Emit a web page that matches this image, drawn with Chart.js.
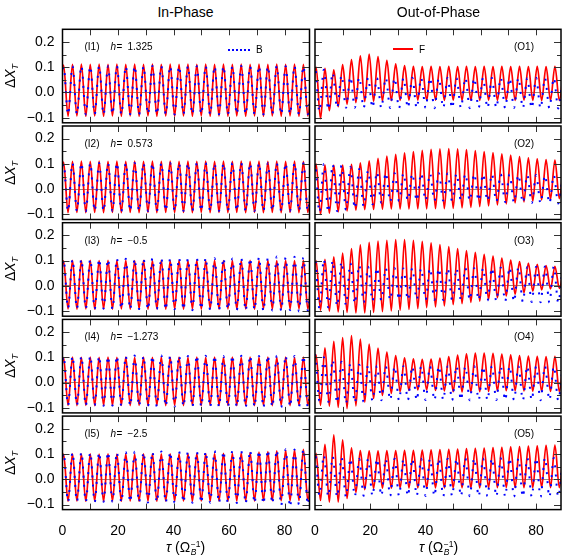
<!DOCTYPE html>
<html><head><meta charset="utf-8">
<script src="https://cdn.jsdelivr.net/npm/chart.js@4.4.1/dist/chart.umd.min.js"></script>
<style>
html,body{margin:0;padding:0;background:#fff;}
#wrap{position:relative;width:566px;height:559px;overflow:hidden;font-family:"Liberation Sans",Arial,Helvetica,sans-serif;color:#000;}
canvas{position:absolute;}
.t{position:absolute;white-space:nowrap;line-height:1;}
</style></head><body><div id="wrap"></div>
<script>
// extremum times (tau) for F curves and in-phase B curves
const tauF = [-1.2,0.4,2.0,3.6,5.2,6.8,8.4,10.0,11.6,13.2,14.8,16.4,18.0,19.6,21.2,22.8,24.4,26.0,27.6,29.2,
  30.8,32.4,34.0,35.6,37.2,38.8,40.4,42.0,43.6,45.2,46.8,48.4,50.0,51.6,53.2,54.8,56.4,58.0,59.6,61.2,
  62.8,64.4,66.0,67.6,69.2,70.8,72.4,74.0,75.6,77.2,78.8,80.4,82.0,83.6,85.2,86.8,88.4,90.0];
// extremum times for out-of-phase B curves
const tauB = [-1.6,0.0,1.6,3.2,4.8,6.4,8.0,9.6,11.2,12.8,14.4,16.0,17.6,19.2,20.8,22.4,24.0,25.6,27.2,28.8,
  30.4,32.0,33.6,35.2,36.8,38.4,40.0,41.6,43.2,44.8,46.4,48.0,49.6,51.2,52.8,54.4,56.0,57.6,59.2,60.8,
  62.4,64.0,65.6,67.2,68.8,70.4,72.0,73.6,75.2,76.8,78.4,80.0,81.6,83.2,84.8,86.4,88.0,89.6];

const inF1 = [-0.093,0.108, -0.094,0.111, -0.093,0.112, -0.094,0.111, -0.093,0.112,
 -0.094,0.111, -0.093,0.112, -0.094,0.111, -0.093,0.112, -0.094,0.111,
 -0.093,0.112, -0.094,0.111, -0.093,0.112, -0.094,0.111, -0.093,0.112,
 -0.094,0.111, -0.093,0.112, -0.094,0.111, -0.093,0.112, -0.094,0.111,
 -0.093,0.112, -0.094,0.111, -0.093,0.112, -0.094,0.111, -0.093,0.112,
 -0.094,0.111, -0.093,0.112, -0.094,0.111, -0.093,0.112];
const inB1 = [-0.086,0.101, -0.087,0.104, -0.086,0.105, -0.087,0.104, -0.086,0.105,
 -0.087,0.104, -0.086,0.105, -0.087,0.104, -0.086,0.105, -0.087,0.104,
 -0.086,0.105, -0.087,0.104, -0.086,0.105, -0.087,0.104, -0.086,0.105,
 -0.087,0.104, -0.086,0.105, -0.087,0.104, -0.086,0.105, -0.087,0.104,
 -0.086,0.105, -0.087,0.104, -0.086,0.105, -0.087,0.104, -0.086,0.105,
 -0.087,0.104, -0.086,0.105, -0.087,0.104, -0.086,0.105];
const inF2 = [-0.092,0.107, -0.093,0.110, -0.092,0.111, -0.093,0.110, -0.092,0.111,
 -0.093,0.110, -0.092,0.111, -0.093,0.110, -0.092,0.111, -0.093,0.110,
 -0.092,0.111, -0.093,0.110, -0.092,0.111, -0.093,0.110, -0.092,0.111,
 -0.093,0.110, -0.092,0.111, -0.093,0.110, -0.092,0.111, -0.093,0.110,
 -0.092,0.111, -0.093,0.110, -0.092,0.111, -0.093,0.110, -0.092,0.111,
 -0.093,0.110, -0.092,0.111, -0.093,0.110, -0.092,0.111];
const inB2 = [-0.086,0.100, -0.087,0.103, -0.086,0.104, -0.087,0.103, -0.086,0.104,
 -0.087,0.103, -0.086,0.104, -0.087,0.103, -0.086,0.104, -0.087,0.103,
 -0.086,0.104, -0.087,0.103, -0.086,0.104, -0.087,0.103, -0.086,0.104,
 -0.087,0.103, -0.086,0.104, -0.087,0.103, -0.086,0.104, -0.087,0.103,
 -0.086,0.104, -0.087,0.103, -0.086,0.104, -0.087,0.103, -0.086,0.104,
 -0.087,0.103, -0.086,0.104, -0.087,0.103, -0.086,0.104];
const inF3 = [-0.092,0.099, -0.091,0.101, -0.092,0.100, -0.091,0.101, -0.092,0.100,
 -0.091,0.101, -0.092,0.100, -0.091,0.101, -0.092,0.100, -0.091,0.101,
 -0.092,0.100, -0.091,0.101, -0.092,0.100, -0.091,0.101, -0.092,0.100,
 -0.091,0.101, -0.092,0.100, -0.091,0.101, -0.092,0.100, -0.091,0.101,
 -0.092,0.100, -0.091,0.101, -0.092,0.100, -0.091,0.101, -0.092,0.100,
 -0.091,0.101, -0.092,0.100, -0.091,0.101, -0.092,0.100];
const inB3 = [-0.088,0.104, -0.089,0.105, -0.090,0.106, -0.089,0.106, -0.091,0.107,
 -0.090,0.106, -0.092,0.108, -0.091,0.107, -0.093,0.108, -0.092,0.109,
 -0.094,0.110, -0.092,0.112, -0.095,0.109, -0.093,0.111, -0.094,0.108,
 -0.096,0.110, -0.093,0.112, -0.095,0.109, -0.097,0.111, -0.094,0.108,
 -0.096,0.112, -0.098,0.110, -0.095,0.114, -0.100,0.111, -0.097,0.116,
 -0.099,0.113, -0.096,0.115, -0.101,0.112, -0.098,0.114];
const inF4 = [-0.091,0.099, -0.090,0.101, -0.091,0.100, -0.090,0.101, -0.091,0.100,
 -0.090,0.101, -0.091,0.100, -0.090,0.101, -0.091,0.100, -0.090,0.101,
 -0.091,0.100, -0.090,0.101, -0.091,0.100, -0.090,0.101, -0.091,0.100,
 -0.090,0.101, -0.091,0.100, -0.090,0.101, -0.091,0.100, -0.090,0.101,
 -0.091,0.100, -0.090,0.101, -0.091,0.100, -0.090,0.101, -0.091,0.100,
 -0.090,0.101, -0.091,0.100, -0.090,0.101, -0.091,0.100];
const inB4 = [-0.089,0.104, -0.090,0.105, -0.089,0.104, -0.091,0.106, -0.090,0.105,
 -0.092,0.104, -0.091,0.106, -0.093,0.105, -0.092,0.107, -0.094,0.105,
 -0.093,0.106, -0.095,0.108, -0.094,0.106, -0.096,0.107, -0.095,0.105,
 -0.097,0.108, -0.095,0.106, -0.098,0.107, -0.096,0.105, -0.099,0.108,
 -0.097,0.106, -0.098,0.107, -0.096,0.105, -0.099,0.108, -0.097,0.106,
 -0.098,0.107, -0.096,0.105, -0.097,0.106, -0.096,0.105];
const inF5 = [-0.086,0.100, -0.087,0.101, -0.086,0.100, -0.087,0.101, -0.086,0.100,
 -0.087,0.101, -0.086,0.100, -0.087,0.101, -0.086,0.100, -0.087,0.101,
 -0.086,0.101, -0.087,0.101, -0.086,0.101, -0.087,0.101, -0.086,0.102,
 -0.087,0.102, -0.086,0.102, -0.087,0.102, -0.086,0.103, -0.087,0.103,
 -0.086,0.104, -0.086,0.106, -0.086,0.108, -0.085,0.110, -0.085,0.112,
 -0.085,0.114, -0.085,0.116, -0.084,0.118, -0.084,0.120];
const inB5 = [-0.088,0.104, -0.089,0.106, -0.088,0.107, -0.089,0.106, -0.090,0.107,
 -0.089,0.108, -0.090,0.107, -0.091,0.108, -0.090,0.109, -0.091,0.108,
 -0.092,0.109, -0.091,0.110, -0.092,0.109, -0.093,0.110, -0.092,0.111,
 -0.093,0.110, -0.094,0.111, -0.093,0.112, -0.094,0.111, -0.095,0.113,
 -0.094,0.112, -0.096,0.115, -0.095,0.114, -0.098,0.117, -0.097,0.116,
 -0.104,0.119, -0.110,0.118, -0.100,0.120, -0.100,0.121];

const outF1 = [-0.100,0.100, -0.104,0.095, -0.072,0.090, -0.056,0.110, -0.046,0.130,
 -0.040,0.145, -0.036,0.152, -0.035,0.142, -0.034,0.127, -0.032,0.113,
 -0.031,0.106, -0.030,0.103, -0.030,0.102, -0.031,0.103, -0.030,0.102,
 -0.031,0.103, -0.030,0.102, -0.031,0.103, -0.030,0.102, -0.031,0.103,
 -0.030,0.102, -0.031,0.103, -0.030,0.102, -0.031,0.103, -0.030,0.102,
 -0.031,0.103, -0.032,0.102, -0.031,0.103, -0.032,0.102];
const outB1 = [-0.060,0.100, -0.075,0.090, -0.068,0.078, -0.062,0.068, -0.060,0.062,
 -0.060,0.060, -0.061,0.058, -0.060,0.057, -0.062,0.058, -0.061,0.057,
 -0.062,0.057, -0.061,0.058, -0.062,0.057, -0.061,0.058, -0.062,0.057,
 -0.061,0.058, -0.062,0.057, -0.061,0.058, -0.062,0.057, -0.061,0.058,
 -0.062,0.057, -0.061,0.058, -0.062,0.057, -0.061,0.058, -0.062,0.057,
 -0.062,0.058, -0.063,0.057, -0.062,0.058, -0.063,0.057];
const outF2 = [-0.100,0.100, -0.100,0.096, -0.095,0.095, -0.090,0.095, -0.086,0.098,
 -0.083,0.104, -0.081,0.112, -0.080,0.122, -0.079,0.131, -0.078,0.138,
 -0.078,0.144, -0.078,0.149, -0.078,0.154, -0.078,0.158, -0.077,0.160,
 -0.077,0.161, -0.076,0.160, -0.074,0.157, -0.072,0.153, -0.069,0.149,
 -0.066,0.145, -0.062,0.140, -0.058,0.135, -0.054,0.129, -0.050,0.124,
 -0.046,0.120, -0.042,0.117, -0.039,0.115, -0.037,0.113];
const outB2 = [-0.090,0.100, -0.092,0.100, -0.090,0.098, -0.087,0.094, -0.082,0.088,
 -0.076,0.080, -0.068,0.073, -0.060,0.068, -0.054,0.065, -0.050,0.063,
 -0.047,0.063, -0.045,0.062, -0.046,0.063, -0.045,0.062, -0.046,0.063,
 -0.045,0.062, -0.046,0.062, -0.045,0.061, -0.046,0.061, -0.046,0.060,
 -0.047,0.060, -0.049,0.059, -0.051,0.058, -0.053,0.057, -0.054,0.056,
 -0.055,0.056, -0.056,0.055, -0.056,0.055, -0.057,0.055];
const outF3 = [-0.095,0.100, -0.096,0.105, -0.100,0.115, -0.103,0.130, -0.105,0.148,
 -0.107,0.162, -0.107,0.172, -0.105,0.177, -0.102,0.180, -0.099,0.183,
 -0.096,0.183, -0.093,0.180, -0.090,0.176, -0.086,0.170, -0.083,0.163,
 -0.079,0.155, -0.074,0.148, -0.070,0.140, -0.065,0.133, -0.060,0.125,
 -0.054,0.118, -0.047,0.110, -0.040,0.102, -0.033,0.096, -0.027,0.090,
 -0.021,0.085, -0.016,0.080, -0.012,0.077, -0.010,0.075];
const outB3 = [-0.090,0.110, -0.090,0.105, -0.085,0.100, -0.080,0.095, -0.076,0.090,
 -0.070,0.082, -0.065,0.076, -0.060,0.072, -0.057,0.070, -0.056,0.070,
 -0.055,0.069, -0.056,0.070, -0.055,0.069, -0.056,0.070, -0.055,0.069,
 -0.056,0.070, -0.055,0.069, -0.056,0.070, -0.056,0.070, -0.057,0.070,
 -0.058,0.071, -0.060,0.072, -0.061,0.073, -0.062,0.074, -0.063,0.075,
 -0.064,0.076, -0.065,0.077, -0.066,0.077, -0.066,0.078];
const outF4 = [-0.090,0.110, -0.090,0.137, -0.093,0.163, -0.098,0.178, -0.103,0.186,
 -0.092,0.172, -0.077,0.152, -0.063,0.136, -0.051,0.121, -0.043,0.107,
 -0.036,0.098, -0.031,0.094, -0.029,0.092, -0.029,0.093, -0.031,0.097,
 -0.033,0.103, -0.036,0.109, -0.037,0.114, -0.037,0.117, -0.036,0.117,
 -0.035,0.116, -0.033,0.113, -0.032,0.110, -0.032,0.107, -0.033,0.105,
 -0.034,0.104, -0.035,0.103, -0.035,0.104, -0.035,0.105];
const outB4 = [-0.070,0.110, -0.072,0.100, -0.076,0.090, -0.080,0.082, -0.083,0.076,
 -0.080,0.071, -0.076,0.068, -0.072,0.066, -0.070,0.065, -0.069,0.064,
 -0.070,0.065, -0.069,0.064, -0.070,0.065, -0.069,0.064, -0.070,0.065,
 -0.069,0.064, -0.070,0.065, -0.069,0.064, -0.070,0.065, -0.069,0.064,
 -0.070,0.065, -0.069,0.064, -0.070,0.065, -0.069,0.064, -0.070,0.065,
 -0.069,0.064, -0.070,0.065, -0.069,0.064, -0.070,0.065];
const outF5 = [-0.080,0.103, -0.084,0.138, -0.090,0.176, -0.090,0.156, -0.076,0.124,
 -0.052,0.113, -0.041,0.112, -0.036,0.112, -0.035,0.113, -0.035,0.113,
 -0.034,0.114, -0.034,0.114, -0.034,0.115, -0.034,0.116, -0.034,0.117,
 -0.034,0.118, -0.034,0.119, -0.034,0.121, -0.034,0.122, -0.034,0.123,
 -0.034,0.125, -0.033,0.126, -0.033,0.128, -0.033,0.129, -0.033,0.131,
 -0.033,0.132, -0.033,0.134, -0.033,0.135, -0.033,0.136];
const outB5 = [-0.060,0.103, -0.064,0.095, -0.068,0.090, -0.070,0.086, -0.070,0.082,
 -0.067,0.080, -0.065,0.080, -0.066,0.081, -0.065,0.080, -0.066,0.081,
 -0.065,0.080, -0.066,0.081, -0.065,0.081, -0.066,0.081, -0.066,0.082,
 -0.067,0.081, -0.066,0.082, -0.067,0.082, -0.067,0.083, -0.068,0.082,
 -0.067,0.083, -0.068,0.083, -0.068,0.084, -0.069,0.083, -0.069,0.084,
 -0.069,0.084, -0.070,0.085, -0.070,0.084, -0.070,0.085];

const hValues = ['1.325','0.573','\u22120.5','\u22121.273','\u22122.5'];
const inLabels = ['(I1)','(I2)','(I3)','(I4)','(I5)'];
const outLabels = ['(O1)','(O2)','(O3)','(O4)','(O5)'];
const xTickLabels = [0,20,40,60,80];
const yTickLabels = [-0.1,0,0.1,0.2];
const yMarks = [-0.1,-0.05,0,0.05,0.1,0.15,0.2];
const xMarks = [10,20,30,40,50,60,70,80];
const inF = [inF1,inF2,inF3,inF4,inF5], inB = [inB1,inB2,inB3,inB4,inB5];
const outF = [outF1,outF2,outF3,outF4,outF5], outB = [outB1,outB2,outB3,outB4,outB5];

Chart.defaults.font.family = '"Liberation Sans", Arial, Helvetica, sans-serif';
Chart.defaults.color = '#000';

const wrap = document.getElementById('wrap');
const ROW_TOP = [29.3,126.0,222.7,319.4,416.1], PH = 93.5;

const framePlugin = {
  id:'frame',
  afterDatasetsDraw(chart){
    const {ctx, chartArea:a} = chart; const xs = chart.scales.x, ys = chart.scales.y;
    ctx.save();
    ctx.strokeStyle = '#333'; ctx.lineWidth = 1;
    ctx.beginPath();
    yMarks.forEach(v=>{
      const p = Math.round(ys.getPixelForValue(v)) + 0.5;
      const major = Math.abs(v*10 - Math.round(v*10)) < 1e-6;
      const L = major ? 7 : 4;
      ctx.moveTo(a.left, p); ctx.lineTo(a.left + L, p);
      ctx.moveTo(a.right, p); ctx.lineTo(a.right - L, p);
    });
    xMarks.forEach(v=>{
      const p = Math.round(xs.getPixelForValue(v)) + 0.5;
      ctx.moveTo(p, a.top); ctx.lineTo(p, a.top + 6);
      ctx.moveTo(p, a.bottom); ctx.lineTo(p, a.bottom - 6);
    });
    ctx.stroke();
    ctx.strokeStyle = '#000'; ctx.lineWidth = 1.5;
    ctx.strokeRect(a.left, a.top, a.right - a.left, a.bottom - a.top);
    ctx.restore();
  }
};

function fmtY(v){ const r = Math.round(v*10)/10; return (r < 0 ? '\u2212' : '') + Math.abs(r).toFixed(1); }

function makePanel(col, row, fVals, bVals, bTau){
  const bottom = row === 4, left = col === 0;
  const cL = left ? 0 : 298, cW = left ? 316 : 268;
  const areaL = left ? 62.5 : 315, areaR = left ? 309.5 : 561;
  const rowTop = ROW_TOP[row];
  const cT = Math.floor(rowTop) - 8;
  const areaB = rowTop + PH;
  const xH = 30;
  const cH = Math.ceil(areaB + (bottom ? xH + 2 : 8)) - cT;
  const cv = document.createElement('canvas');
  cv.width = cW; cv.height = cH;
  cv.style.left = cL + 'px'; cv.style.top = cT + 'px';
  cv.style.width = cW + 'px'; cv.style.height = cH + 'px';
  wrap.appendChild(cv);
  new Chart(cv, {
    type:'line',
    data:{datasets:[
      {label:'B', data:bTau.map((t,i)=>({x:t,y:bVals[i]})), borderColor:'#0000ff', borderWidth:2,
       borderDash:[2,7], pointRadius:0, cubicInterpolationMode:'monotone', fill:false},
      {label:'F', data:tauF.map((t,i)=>({x:t,y:fVals[i]})), borderColor:'#ff0000', borderWidth:1.7,
       pointRadius:0, cubicInterpolationMode:'monotone', fill:false}
    ]},
    options:{
      responsive:false, animation:false, devicePixelRatio:1, events:[],
      elements:{line:{capBezierPoints:false}},
      layout:{padding:{left:0, top:rowTop - cT, right:cL + cW - areaR, bottom:cT + cH - areaB - (bottom ? xH : 0)}},
      plugins:{legend:{display:false}, tooltip:{enabled:false}},
      scales:{
        x:{type:'linear', min:0, max:89, display:bottom, grid:{display:false}, border:{display:false},
           afterBuildTicks:s=>{ s.ticks = xTickLabels.map(v=>({value:v})); },
           ticks:{padding:5, color:'#000', font:{size:14}, maxRotation:0, autoSkip:false},
           afterFit:s=>{ if(bottom) s.height = xH; s.paddingLeft = 0; s.paddingRight = 0; }},
        y:{type:'linear', min:-0.12, max:0.25, border:{display:false},
           grid:{drawTicks:false, lineWidth:1, color:c=>(c.tick && Math.abs(c.tick.value) < 1e-9) ? '#8a8a8a' : 'rgba(0,0,0,0)'},
           afterBuildTicks:s=>{ s.ticks = yTickLabels.map(v=>({value:v})); },
           ticks:{display:left, padding:8, color:'#000', font:{size:14}, callback:v=>fmtY(v)},
           afterFit:s=>{ s.width = areaL - cL; s.paddingTop = 0; s.paddingBottom = 0; }}
      }
    },
    plugins:[framePlugin]
  });
}

for (let r = 0; r < 5; r++){
  makePanel(0, r, inF[r], inB[r], tauF);
  makePanel(1, r, outF[r], outB[r], tauB);
}

function addText(html, x, y, size, opts){
  const d = document.createElement('div');
  d.className = 't'; d.innerHTML = html;
  d.style.fontSize = size + 'px';
  d.style.left = x + 'px'; d.style.top = y + 'px';
  if (opts && opts.transform) d.style.transform = opts.transform;
  wrap.appendChild(d);
  return d;
}

// column titles
addText('In-Phase', 185.5, 4.6, 14, {transform:'translateX(-50%)'});
addText('Out-of-Phase', 438.5, 4.6, 14, {transform:'translateX(-50%)'});

for (let r = 0; r < 5; r++){
  const top = ROW_TOP[r];
  const cy = top + 18;
  addText(inLabels[r], 84.5, cy, 10, {transform:'translateY(-50%)'});
  addText('<i>h</i>', 110.5, cy, 10, {transform:'translateY(-50%)'});
  addText('=', 116.5, cy, 10, {transform:'translateY(-50%)'});
  addText(hValues[r], 127.5, cy, 10, {transform:'translateY(-50%)'});
  addText(outLabels[r], 514, cy, 10, {transform:'translateY(-50%)'});
  // y axis label
  addText('\u0394<i>X</i><sub style="font-size:9px;vertical-align:-3px"><i>T</i></sub>', 10.5, top + PH/2, 14,
          {transform:'translate(-50%,-50%) rotate(-90deg)'});
}

// legends
const lb = document.createElement('div');
lb.style.cssText = 'position:absolute;left:228px;top:48.5px;width:22px;height:0;border-top:2px dotted #0000ff;';
wrap.appendChild(lb);
addText('B', 256, 49.5, 10, {transform:'translateY(-50%)'});
const lf = document.createElement('div');
lf.style.cssText = 'position:absolute;left:393px;top:48px;width:20px;height:1.5px;background:#ff0000;';
wrap.appendChild(lf);
addText('F', 419, 49.5, 10, {transform:'translateY(-50%)'});

// x axis labels
const xl = '<i>\u03c4</i> (\u03a9<span style="display:inline-flex;flex-direction:column;font-size:8.5px;line-height:7.5px;vertical-align:5px;margin-left:0.5px"><span>\u22121</span><i>B</i></span>)';
addText(xl, 185.5, 540, 14, {transform:'translateX(-50%)'});
addText(xl, 438.5, 540, 14, {transform:'translateX(-50%)'});
</script></body></html>
